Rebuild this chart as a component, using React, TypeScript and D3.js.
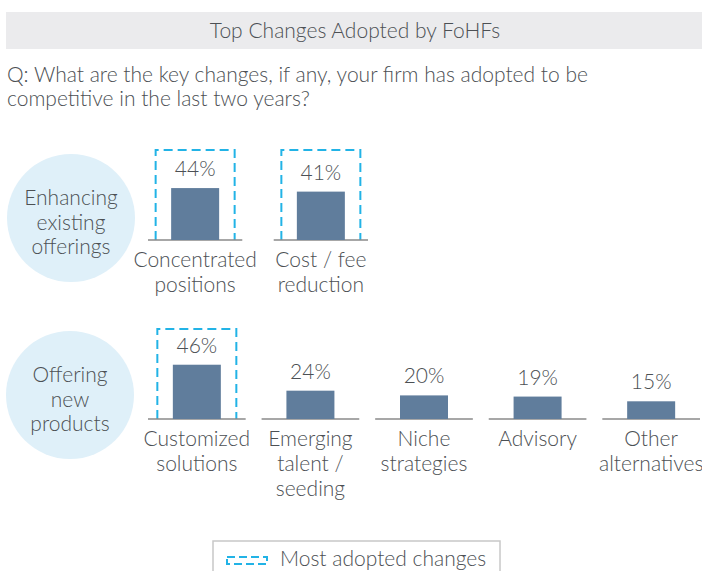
import React from "react";
import * as d3 from "d3";

const TITLE = "Top Changes Adopted by FoHFs";
const QUESTION = [
  "Q: What are the key changes, if any, your firm has adopted to be",
  "competitive in the last two years?",
];
const group1Label = ["Enhancing", "existing", "offerings"];
const group1Cats = ["Concentrated|positions", "Cost / fee|reduction"];
const group1Values = [44, 41];
const group1Highlight = [true, true];

const group2Label = ["Offering", "new", "products"];
const group2Cats = [
  "Customized|solutions",
  "Emerging|talent /|seeding",
  "Niche|strategies",
  "Advisory",
  "Other|alternatives",
];
const group2Values = [46, 24, 20, 19, 15];
const group2Highlight = [true, false, false, false, false];
const LEGEND_LABEL = "Most adopted changes";

const W = 702;
const H = 571;
const FONT = "Lato, 'Open Sans', sans-serif";
const TEXT = "#4c5054";
const BAR = "#607d9c";
const DASH = "#22b3e6";
const CIRCLE = "#dff0f9";
const FS = 21;

const y = d3.scaleLinear().domain([0, 50]).range([0, 59]);

function Row({ cats, values, highlight, label, baseline, x0, x1, pad, cx, cy }) {
  const x = d3.scaleBand().domain(cats).range([x0, x1]).paddingInner(pad).paddingOuter(0);
  const bw = 48;
  return (
    <g>
      <ellipse cx={cx} cy={cy} rx={64} ry={64} fill={CIRCLE} />
      {label.map((l, i) => (
        <text key={l} x={cx} y={cy - 13 + i * 24.5} textAnchor="middle" fontSize={FS} fill={TEXT}>
          {l}
        </text>
      ))}
      {cats.map((c, i) => {
        const cxBand = (x(c) as number) + x.bandwidth() / 2;
        const h = y(values[i]);
        const lines = c.split("|");
        return (
          <g key={c}>
            {highlight[i] && (
              <path
                d={`M${cxBand - 39.5},${baseline} V${baseline - 90} H${cxBand + 39.5} V${baseline}`}
                fill="none"
                stroke={DASH}
                strokeWidth={2}
                strokeDasharray="9,5"
              />
            )}
            <line x1={x(c)} x2={(x(c) as number) + x.bandwidth()} y1={baseline} y2={baseline} stroke="#8a8a8a" strokeWidth={1.5} />
            <rect x={cxBand - bw / 2} y={baseline - h} width={bw} height={h} fill={BAR} />
            <text x={cxBand} y={baseline - h - 12} textAnchor="middle" fontSize={FS} fill={TEXT}>
              {values[i]}%
            </text>
            {lines.map((l, j) => (
              <text key={j} x={cxBand} y={baseline + 27 + j * 25} textAnchor="middle" fontSize={FS} fill={TEXT}>
                {l}
              </text>
            ))}
          </g>
        );
      })}
    </g>
  );
}

export default function App() {
  return (
    <svg width={W} height={H} style={{ position: "absolute", left: 0, top: 0, fontFamily: FONT, fontWeight: 300 }}>
      <rect x={0} y={0} width={W} height={H} fill="#fff" />
      <rect x={6} y={12} width={W - 6} height={37} fill="#ebebed" />
      <text x={355} y={38} textAnchor="middle" fontSize={FS} fill={TEXT}>
        {TITLE}
      </text>
      {QUESTION.map((q, i) => (
        <text key={i} x={7} y={82 + i * 24} fontSize={FS} fill={TEXT}>
          {q}
        </text>
      ))}
      <Row cats={group1Cats} values={group1Values} highlight={group1Highlight} label={group1Label} baseline={240} x0={148} x1={368} pad={0.25} cx={71} cy={218} />
      <Row cats={group2Cats} values={group2Values} highlight={group2Highlight} label={group2Label} baseline={419} x0={148} x1={700} pad={0.14} cx={70} cy={395} />
      <rect x={213} y={541} width={287} height={40} fill="#fff" stroke="#c8c8c8" strokeWidth={1.5} />
      <rect x={227} y={557} width={40} height={7} fill="none" stroke={DASH} strokeWidth={2} strokeDasharray="8,4" />
      <text x={280} y={566} fontSize={FS} fill={TEXT}>
        {LEGEND_LABEL}
      </text>
    </svg>
  );
}
